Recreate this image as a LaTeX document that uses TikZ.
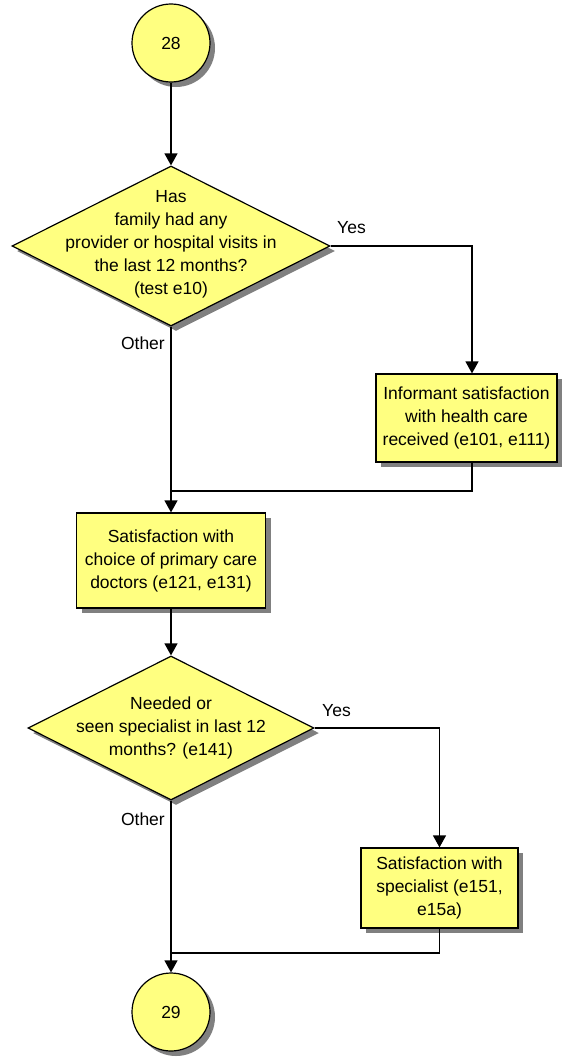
\documentclass[tikz,border=0pt]{standalone}
\usepackage{fontspec}
\setmainfont{Liberation Sans}
\usetikzlibrary{shapes.geometric,shadows,arrows.meta}
\definecolor{flowyellow}{RGB}{255,255,128}
\begin{document}
\begin{tikzpicture}[x=1pt,y=-1pt,
  font=\fontsize{17.5}{23}\selectfont,
  flowline/.style={line width=1.2pt, draw=black},
  flowarrow/.style={flowline, -{Triangle[width=13pt,length=12pt]}},
  boxshadow/.style={drop shadow={shadow xshift=5pt,shadow yshift=-5pt,fill=black!50,opacity=1}},
  connector/.style={circle, draw, line width=1.2pt, fill=flowyellow, minimum size=78pt, inner sep=0pt, boxshadow},
  decision/.style={diamond, draw, line width=1.2pt, fill=flowyellow, inner sep=0pt, boxshadow},
  process/.style={rectangle, draw, line width=1.2pt, fill=flowyellow, inner sep=0pt, align=center, boxshadow},
  inner/.style={align=center, inner sep=0pt},
  branchtext/.style={inner sep=0pt}
]
\useasboundingbox (0,0) rectangle (563,1057);

% off-page connectors
\node[connector] (c28) at (171,43) {28};
\node[connector] (c29) at (171,1012) {29};

% first decision
\node[decision, minimum width=318pt, minimum height=160pt] (d1) at (171,246) {};
\node[inner] (t1) at (171,244.5) {Has\\family had any\\provider or hospital visits in\\the last 12 months?\\(test e10)};

% processes
\node[process, minimum width=181pt, minimum height=88pt] (b1) at (466.5,418) {Informant satisfaction\\with health care\\received (e101, e111)};
\node[process, minimum width=189pt, minimum height=95pt] (b2) at (171,560.5) {Satisfaction with\\choice of primary care\\doctors (e121, e131)};

% second decision
\node[decision, minimum width=286pt, minimum height=144pt] (d2) at (171,728) {};
\node[inner] (t2) at (171,728) {Needed or\\seen specialist in last 12\\months? (e141)};

\node[process, minimum width=157pt, minimum height=80pt] (b3) at (439.5,888) {Satisfaction with\\specialist (e151,\\e15a)};

% join points
\coordinate (m1) at (171,491);
\coordinate (m2) at (171,953);

% connectors
\draw[flowarrow] (c28) -- (d1.north);
\draw[flowarrow] (d1.east) -| ([xshift=5.5pt]b1.north);
\draw[flowarrow] (d1.south) -- (b2.north);
\draw[flowline] ([xshift=5.5pt]b1.south) |- (m1);
\draw[flowarrow] (b2.south) -- (d2.north);
\draw[flowarrow] (d2.east) -| (b3.north);
\draw[flowarrow] (d2.south) -- (c29.north);
\draw[flowline] (b3.south) |- (m2);

% branch labels
\node[branchtext, anchor=base west] (y1) at (337,233) {Yes};
\node[branchtext, anchor=base east] (o1) at (165,349) {Other};
\node[branchtext, anchor=base west] (y2) at (322,716) {Yes};
\node[branchtext, anchor=base east] (o2) at (165,825) {Other};
\end{tikzpicture}
\end{document}
